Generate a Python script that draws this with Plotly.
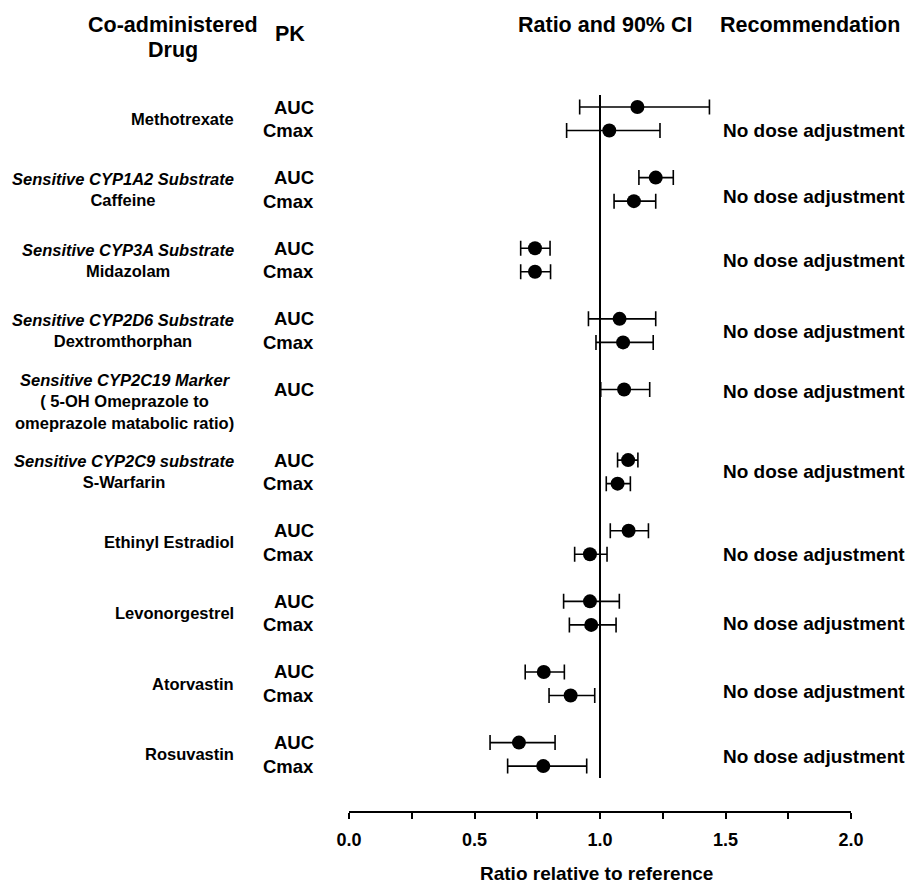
import plotly.graph_objects as go

# ---------------- data ----------------
drug_labels = [
    "Methotrexate",
    "<i>Sensitive CYP1A2 Substrate</i><br>Caffeine",
    "<i>Sensitive CYP3A Substrate</i><br>Midazolam",
    "<i>Sensitive CYP2D6 Substrate</i><br>Dextromthorphan",
    "<i>Sensitive CYP2C19 Marker</i><br>( 5-OH Omeprazole to<br>omeprazole matabolic ratio)",
    "<i>Sensitive CYP2C9 substrate</i><br>S-Warfarin",
    "Ethinyl Estradiol",
    "Levonorgestrel",
    "Atorvastin",
    "Rosuvastin",
]
recommendations = ["No dose adjustment"] * 10

auc_ratio = [1.149, 1.222, 0.741, 1.078, 1.096, 1.112, 1.114, 0.960, 0.776, 0.677]
auc_lower = [0.919, 1.155, 0.684, 0.954, 1.003, 1.070, 1.041, 0.855, 0.702, 0.562]
auc_upper = [1.436, 1.292, 0.801, 1.222, 1.198, 1.151, 1.193, 1.077, 0.858, 0.821]

cmax_ratio = [1.037, 1.135, 0.741, 1.092, None, 1.070, 0.960, 0.965, 0.883, 0.774]
cmax_lower = [0.867, 1.056, 0.684, 0.984, None, 1.025, 0.899, 0.878, 0.797, 0.632]
cmax_upper = [1.239, 1.222, 0.803, 1.212, None, 1.121, 1.028, 1.064, 0.979, 0.947]

x_tick_vals = [0, 0.25, 0.5, 0.75, 1.0, 1.25, 1.5, 1.75, 2.0]
x_tick_text = ["0.0", "", "0.5", "", "1.0", "", "1.5", "", "2.0"]

# ---------------- layout helpers ----------------
W, H = 909, 883
ML, MR, MT, MB = 349, 58, 95, 72
PW = W - ML - MR
PH = H - MT - MB
Y0_PX, SLOT_PX = 107.0, 23.54  # first row pixel / row spacing
Y_TOP = (MT - Y0_PX) / SLOT_PX
Y_BOT = (H - MB - Y0_PX) / SLOT_PX

def px_x(px):
    return (px - ML) / PW

def px_y(py):
    return (H - MB - py) / PH

FONT = "Liberation Sans, Arial, sans-serif"
rec_offsets = [1.0, 0.8, 0.5, 0.55, 0.1, 0.5, 1.0, 0.95, 0.85, 0.6]

# rows
xs, ys, lo, hi, pk_names = [], [], [], [], []
for g in range(len(drug_labels)):
    xs.append(auc_ratio[g]); ys.append(3 * g)
    lo.append(auc_ratio[g] - auc_lower[g]); hi.append(auc_upper[g] - auc_ratio[g])
    pk_names.append(("AUC", 3 * g))
    if cmax_ratio[g] is not None:
        xs.append(cmax_ratio[g]); ys.append(3 * g + 1)
        lo.append(cmax_ratio[g] - cmax_lower[g]); hi.append(cmax_upper[g] - cmax_ratio[g])
        pk_names.append(("Cmax", 3 * g + 1))

fig = go.Figure()
fig.add_trace(go.Scatter(
    x=xs, y=ys, mode="markers",
    marker=dict(size=14, color="black"),
    error_x=dict(type="data", symmetric=False, array=hi, arrayminus=lo,
                 color="black", thickness=1.6, width=7.5),
    showlegend=False, hoverinfo="skip",
))

# reference line at 1.0
fig.add_shape(type="line", x0=1, x1=1, y0=Y_TOP, y1=28.5, xref="x", yref="y",
              line=dict(color="black", width=2))

ann = []
bold = dict(family=FONT, color="black", weight="bold")
for g, lab in enumerate(drug_labels):
    ann.append(dict(text=lab, x=px_x(236), xref="paper", y=3 * g + 0.5, yref="y",
                    xanchor="right", yanchor="middle", align="center", showarrow=False,
                    font=dict(size=16.5, **bold)))
    ann.append(dict(text=recommendations[g], x=px_x(721), xref="paper",
                    y=3 * g + rec_offsets[g], yref="y",
                    xanchor="left", yanchor="middle", showarrow=False,
                    font=dict(size=19, **bold)))
for name, yy in pk_names:
    ann.append(dict(text=name, x=px_x(316), xref="paper", y=yy, yref="y",
                    xanchor="right", yanchor="middle", showarrow=False,
                    font=dict(size=18.5, **bold)))

headers = [("Co-administered", 172.5, 25), ("Drug", 172.5, 50), ("PK", 290, 34),
           ("Ratio and 90% CI", 604.5, 25), ("Recommendation", 810, 25),
           ("Ratio relative to reference", 596, 874)]
for t, cx, cy in headers:
    size = 19 if t.startswith("Ratio relative") else 21.5
    ann.append(dict(text=t, x=px_x(cx), xref="paper", y=px_y(cy), yref="paper",
                    xanchor="center", yanchor="middle", showarrow=False,
                    font=dict(size=size, **bold)))

fig.update_layout(
    width=W, height=H,
    margin=dict(l=ML, r=MR, t=MT, b=MB, pad=0),
    paper_bgcolor="white", plot_bgcolor="white",
    annotations=ann,
    xaxis=dict(range=[0, 2], tickvals=x_tick_vals, ticktext=x_tick_text,
               showgrid=False, zeroline=False, showline=True, linecolor="black",
               linewidth=1.6, ticks="outside", ticklen=6, tickwidth=1.6, tickcolor="black",
               tickfont=dict(family=FONT, size=18, color="black", weight="bold"),
               ticklabelstandoff=6, fixedrange=True),
    yaxis=dict(range=[Y_BOT, Y_TOP], visible=False, showgrid=False, zeroline=False,
               fixedrange=True),
)

fig.write_html("out.html")
